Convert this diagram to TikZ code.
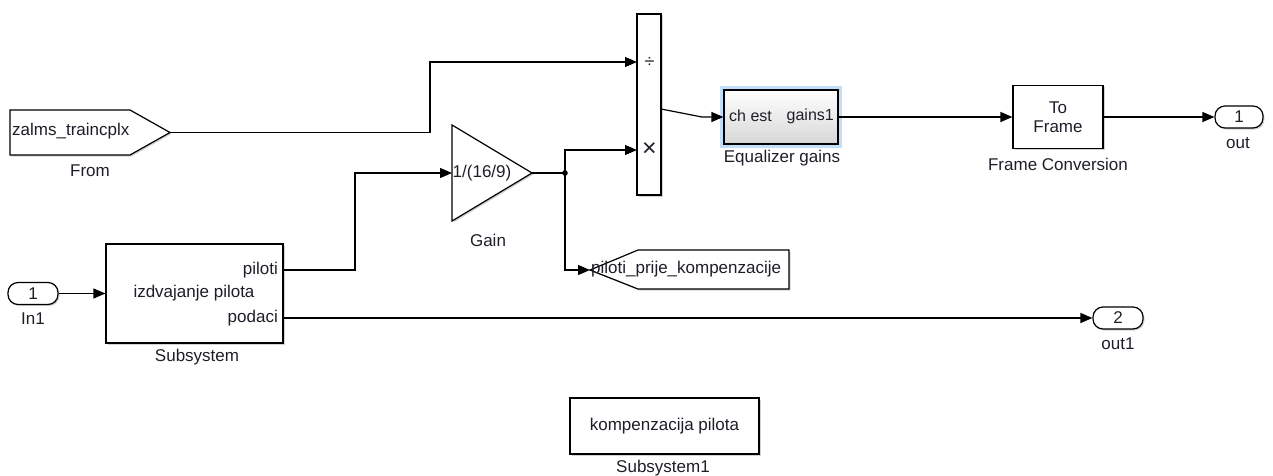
\documentclass[tikz,border=0pt]{standalone}
\usepackage{fontspec}
\setmainfont{Liberation Sans}
\usetikzlibrary{arrows.meta,shadows,calc}
\definecolor{txt}{RGB}{30,30,40}
\definecolor{halo}{RGB}{195,222,250}
\definecolor{botgray}{RGB}{215,215,215}
\begin{document}
\begin{tikzpicture}[x=1pt,y=-1pt,
  every node/.style={font=\fontsize{17}{19}\selectfont, text=txt, inner sep=0pt},
  shad/.style={drop shadow={shadow xshift=1.5pt, shadow yshift=-1.5pt, opacity=0.35}},
  blk/.style={draw=black, line width=1.2pt, fill=white, shad},
  port/.style={draw=black, line width=1.2pt, fill=white, rounded corners=10pt, minimum width=50pt, minimum height=22pt, shad},
  sig/.style={-{Triangle[length=12pt,width=10pt]}, line width=1.2pt},
  wire/.style={line width=1.2pt}]
\useasboundingbox (0,0) rectangle (1273,476);

% From block
\draw[blk] (10,110) -- (130,110) -- (170,132.5) -- (130,155) -- (10,155) -- cycle;
\coordinate (fromtip) at (170,132.5);
\node[anchor=west] (fromtxt) at (12,131) {zalms\_traincplx};
\node (fromlbl) at (90,171) {From};

% Product block
\node[blk, minimum width=24pt, minimum height=181pt] (prod) at (649,104.5) {};
\node (pdivs) at (649.5,62) {\fontsize{18}{18}\selectfont ÷};
\node (pmuls) at (649.5,150) {\fontsize{25}{25}\selectfont ×};
\coordinate (pdiv) at (637,62);
\coordinate (pmul) at (637,150);
\coordinate (pout) at (661,109);

% Gain
\draw[blk] (452,125) -- (452,221) -- (532,173) -- cycle;
\coordinate (gainin) at (452,173);
\coordinate (gainout) at (532,173);
\node (gaintxt) at (482,173) {1/(16/9)};
\node (gainlbl) at (488,240) {Gain};
\coordinate (j) at (565,173);

% Goto block
\draw[blk] (590,270) -- (638,250) -- (789,250) -- (789,289) -- (638,289) -- cycle;
\coordinate (gototip) at (590,270);
\node[anchor=west] (gototxt) at (591,269) {piloti\_prije\_kompenzacije};

% Equalizer gains
\node[fill=halo, minimum width=122pt, minimum height=62pt] (eqhalo) at (781,117) {};
\node[draw=black, line width=1.2pt, top color=white, bottom color=botgray, minimum width=114pt, minimum height=54pt] (eq) at (781,117) {};
\node[anchor=west, font=\fontsize{16}{19}\selectfont] (eqin) at (729,116) {ch est};
\node[anchor=east, font=\fontsize{16}{19}\selectfont] (eqout) at (834,116) {gains1};
\node (eqlbl) at (782,158) {Equalizer gains};

% Frame conversion
\node[blk, minimum width=90pt, minimum height=63pt, align=center] (frame) at (1058,117) {To\\Frame};
\node (framelbl) at (1058,164) {Frame Conversion};

% Out ports
\node[port, minimum width=48pt] (out) at (1239,117) {1};
\node (outlbl) at (1238,143) {out};
\node[port] (out1) at (1118,318) {2};
\node (out1lbl) at (1118,344) {out1};

% In port
\node[port] (in1) at (33,293.5) {1};
\node (in1lbl) at (33,319) {In1};

% Subsystem
\node[blk, minimum width=177pt, minimum height=99pt] (sub) at (194.5,293.5) {};
\node[anchor=east] (subp) at (278,270) {piloti};
\node (subn) at (194,293) {izdvajanje pilota};
\node[anchor=east] (subd) at (278,318) {podaci};
\coordinate (subpo) at (283,270);
\coordinate (subdo) at (283,318);
\node (sublbl) at (197,357) {Subsystem};

% Subsystem1
\node[blk, minimum width=189pt, minimum height=56pt] (sub1) at (664.5,426) {kompenzacija pilota};
\node (sub1lbl) at (663,468) {Subsystem1};

% Connectors
\draw[sig] (fromtip) -- ++(260,0) |- (pdiv);
\draw[sig] (subpo) -- ++(72,0) |- (gainin);
\draw[wire] (gainout) -- (j);
\draw[sig] (j) |- (pmul);
\draw[sig] (j) |- (gototip);
\fill (j) circle (2.8pt);
\draw[sig] (pout) -- ++(41,8) -- (eq.west);
\draw[sig] (eq.east) -- (frame.west);
\draw[sig] (frame.east) -- (out.west);
\draw[sig] (in1.east) -- (sub.west);
\draw[sig] (subdo) -- (out1.west);
\end{tikzpicture}
\end{document}
